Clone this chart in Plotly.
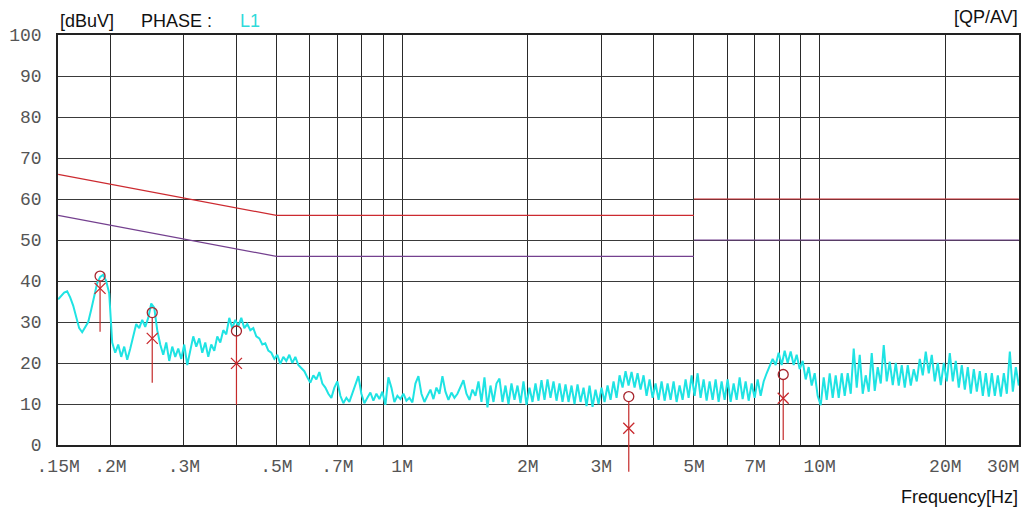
import numpy as np
import plotly.graph_objects as go

# Measured L1 spectrum (dBuV), one reading per sweep point from 0.15 MHz to 30 MHz
levels = [
    35.5, 36.5, 37.2, 37.5, 36.0, 34.0, 31.0, 28.5, 27.5, 28.8, 30.0, 33.0, 36.5, 39.5, 41.0, 41.5, 40.0, 37.0, 25.0, 22.5,
    24.5, 21.5, 24.0, 20.8, 23.5, 26.5, 29.5, 28.5, 30.5, 28.8, 31.0, 34.5, 33.5, 28.0, 24.5, 22.0, 25.0, 20.5, 24.0, 21.5,
    23.5, 21.0, 24.5, 19.5, 23.0, 26.5, 24.0, 26.0, 22.5, 25.0, 21.5, 24.5, 23.0, 26.5, 25.0, 28.0, 27.0, 31.0, 28.5, 30.5,
    29.0, 31.0, 28.5, 29.5, 28.0, 28.5, 26.5, 26.0, 24.5, 24.8, 23.0, 22.5, 21.0, 22.0, 19.8, 21.5, 20.5, 22.0, 20.0, 21.5,
    19.5, 18.8, 18.0, 16.5, 15.2, 17.0, 16.0, 17.8, 15.0, 14.0, 12.5, 11.5, 14.0, 15.5, 12.0, 10.2, 11.5, 10.5, 12.5, 14.5,
    16.8, 12.5, 10.2, 11.5, 12.8, 10.8, 12.5, 11.2, 13.0, 9.8, 16.5, 14.0, 10.5, 12.0, 11.2, 12.5, 10.8, 11.5, 10.4, 15.0,
    16.8, 12.5, 10.5, 12.0, 13.5, 11.2, 14.0, 12.5, 16.8, 13.0, 11.0, 12.8, 11.5, 12.5, 14.0, 15.8, 12.5, 11.0, 13.5, 12.0,
    15.5, 10.5, 16.5, 9.2, 14.5, 10.5, 15.0, 16.2, 10.5, 14.5, 10.0, 15.0, 11.0, 14.5, 10.2, 15.5, 9.8, 14.0, 10.5, 15.0,
    10.8, 15.8, 11.0, 16.0, 11.5, 15.5, 10.8, 15.0, 10.5, 14.8, 10.5, 14.5, 10.0, 14.8, 10.5, 14.0, 9.5, 14.5, 9.3, 13.5,
    10.0, 14.0, 10.5, 14.5, 11.0, 15.5, 11.5, 17.0, 14.0, 18.0, 14.5, 17.8, 14.0, 17.5, 13.5, 17.0, 12.0, 16.0, 11.5, 15.0,
    11.0, 15.5, 10.8, 15.0, 11.0, 15.5, 10.5, 14.5, 11.0, 16.0, 11.5, 17.0, 12.0, 17.5, 11.5, 16.0, 10.8, 15.5, 11.0, 16.0,
    10.5, 15.5, 11.0, 16.0, 10.5, 15.0, 11.0, 16.5, 11.2, 15.5, 10.8, 15.0, 11.5, 16.0, 12.0, 15.5, 17.5, 19.5, 21.0, 19.5,
    22.5, 19.5, 23.0, 20.0, 22.8, 19.5, 22.0, 18.5, 20.5, 16.0, 19.0, 14.5, 17.5, 12.0, 9.7, 16.5, 11.0, 17.5, 11.5, 17.0,
    11.5, 17.5, 12.0, 17.5, 12.5, 23.5, 14.0, 22.0, 12.5, 17.0, 13.0, 22.4, 13.2, 19.0, 15.0, 24.4, 15.5, 20.3, 14.6, 20.0,
    14.5, 19.5, 14.0, 19.5, 14.5, 18.5, 15.5, 21.0, 17.0, 22.8, 17.5, 22.0, 15.5, 20.0, 14.6, 20.0, 15.5, 22.4, 15.5, 20.5,
    14.0, 19.5, 13.5, 19.0, 12.5, 18.5, 13.0, 18.0, 12.0, 17.5, 11.8, 17.5, 12.0, 17.0, 11.8, 17.5, 12.5, 22.8, 13.0, 19.0,
    14.5,
]
# Receiver sweep points (MHz), log-spaced over the band
sweep_mhz = np.geomspace(0.15, 30.0, len(levels))

# Limit lines (MHz, dBuV); None breaks the step at 5 MHz
qp_limit_freq = [0.15, 0.5, 5.0, None, 5.0, 30.0]
qp_limit_level = [66, 56, 56, None, 60, 60]
av_limit_freq = [0.15, 0.5, 5.0, None, 5.0, 30.0]
av_limit_level = [56, 46, 46, None, 50, 50]

# Final measurement points
peak_freq = [0.189, 0.252, 0.401, 3.49, 8.18]
qp_level = [41.2, 32.3, 27.8, 11.8, 17.2]
av_level = [38.2, 26.0, 19.9, 4.1, 11.4]
stem_base = [27.6, 15.2, 9.8, -6.5, 1.2]

# Frequency grid and its labels (the 30M label sits inside the right edge)
grid_freq = [0.15, 0.2, 0.3, 0.4, 0.5, 0.6, 0.7, 0.8, 0.9, 1, 2, 3, 4, 5, 6, 7, 8, 9, 10, 20, 30]
grid_text = [".15M", ".2M", ".3M", "", ".5M", "", ".7M", "", "", "1M", "2M", "3M", "", "5M", "",
             "7M", "", "", "10M", "20M", ""]
end_label = "30M"
level_ticks = [0, 10, 20, 30, 40, 50, 60, 70, 80, 90, 100]

W, H = 1024, 508
ML, MR, MT, MB = 58, 5, 35, 0
plot_h = H - MT - MB
axis_bottom_px = 445
y_dom0 = (H - MB - axis_bottom_px) / plot_h
y2_low = -(H - MB - axis_bottom_px) * 100.0 / (axis_bottom_px - MT)
x_range = [np.log10(0.15) - 0.0004, np.log10(30.0) + 0.0004]

stem_x, stem_y = [], []
for f, b, q in zip(peak_freq, stem_base, qp_level):
    stem_x += [f, f, None]
    stem_y += [b, q - 1.1, None]

fig = go.Figure()
fig.add_trace(go.Scatter(x=sweep_mhz, y=levels, mode="lines",
                         line=dict(color="#1FE3E3", width=2.0), xaxis="x", yaxis="y"))
fig.add_trace(go.Scatter(x=qp_limit_freq, y=qp_limit_level, mode="lines",
                         line=dict(color="#CC2A30", width=1.2), xaxis="x", yaxis="y"))
fig.add_trace(go.Scatter(x=av_limit_freq, y=av_limit_level, mode="lines",
                         line=dict(color="#74408F", width=1.2), xaxis="x", yaxis="y"))
# Markers live on a taller twin pair so the stems can run below the frame
fig.add_trace(go.Scatter(x=stem_x, y=stem_y, mode="lines",
                         line=dict(color="#C42A2A", width=1.2), xaxis="x2", yaxis="y2"))
fig.add_trace(go.Scatter(x=peak_freq, y=qp_level, mode="markers",
                         marker=dict(symbol="circle-open", size=10, color="#A8262E",
                                     line=dict(width=1.3, color="#A8262E")),
                         xaxis="x2", yaxis="y2"))
fig.add_trace(go.Scatter(x=peak_freq, y=av_level, mode="markers",
                         marker=dict(symbol="x-thin-open", size=11, color="#C8282D",
                                     line=dict(width=1.3, color="#C8282D")),
                         xaxis="x2", yaxis="y2"))

tick_font = dict(family="Liberation Mono", size=18, color="#555555")
label_font = dict(family="Liberation Sans", size=18, color="#111111")

fig.update_layout(
    width=W, height=H,
    margin=dict(l=ML, r=MR, t=MT, b=MB, autoexpand=False),
    paper_bgcolor="white", plot_bgcolor="rgba(0,0,0,0)",
    showlegend=False,
    xaxis=dict(type="log", range=x_range, domain=[0, 1], anchor="y",
               tickmode="array", tickvals=grid_freq, ticktext=grid_text,
               showgrid=True, gridcolor="#2a2a2a", gridwidth=1.2,
               showline=True, linecolor="#222222", linewidth=1.5, mirror=True,
               ticks="", tickfont=tick_font, zeroline=False, ticklabelstandoff=4,
               automargin=False),
    yaxis=dict(range=[0, 100], domain=[y_dom0, 1], anchor="x",
               tickmode="array", tickvals=level_ticks,
               showgrid=True, gridcolor="#3a3a3a", gridwidth=1.2,
               showline=True, linecolor="#222222", linewidth=1.5, mirror=True,
               ticks="", tickfont=tick_font, zeroline=False, ticklabelstandoff=11,
               automargin=False),
    xaxis2=dict(type="log", range=x_range, domain=[0, 1], anchor="y2", visible=False,
                showgrid=False, zeroline=False, automargin=False),
    yaxis2=dict(range=[y2_low, 100], domain=[0, 1], anchor="x2", visible=False,
                showgrid=False, zeroline=False, automargin=False),
)

def py(px):
    return (H - MB - px) / plot_h

def pxr(px):
    return (px - ML) / (W - ML - MR)

fig.add_annotation(x=pxr(1021), y=py(467), xref="paper", yref="paper", text=end_label,
                   showarrow=False, xanchor="right", yanchor="middle", font=tick_font)
fig.add_annotation(x=pxr(58), y=py(21), xref="paper", yref="paper", text="[dBuV]",
                   showarrow=False, xanchor="left", yanchor="middle", font=label_font)
fig.add_annotation(x=pxr(139), y=py(21), xref="paper", yref="paper", text="PHASE :",
                   showarrow=False, xanchor="left", yanchor="middle", font=label_font)
fig.add_annotation(x=pxr(238), y=py(21), xref="paper", yref="paper", text="L1",
                   showarrow=False, xanchor="left", yanchor="middle",
                   font=dict(family="Liberation Sans", size=18, color="#2FDADA"))
fig.add_annotation(x=pxr(1020), y=py(17), xref="paper", yref="paper", text="[QP/AV]",
                   showarrow=False, xanchor="right", yanchor="middle", font=label_font)
fig.add_annotation(x=pxr(1020), y=py(497), xref="paper", yref="paper", text="Frequency[Hz]",
                   showarrow=False, xanchor="right", yanchor="middle", font=label_font)

fig.write_html("out.html")
